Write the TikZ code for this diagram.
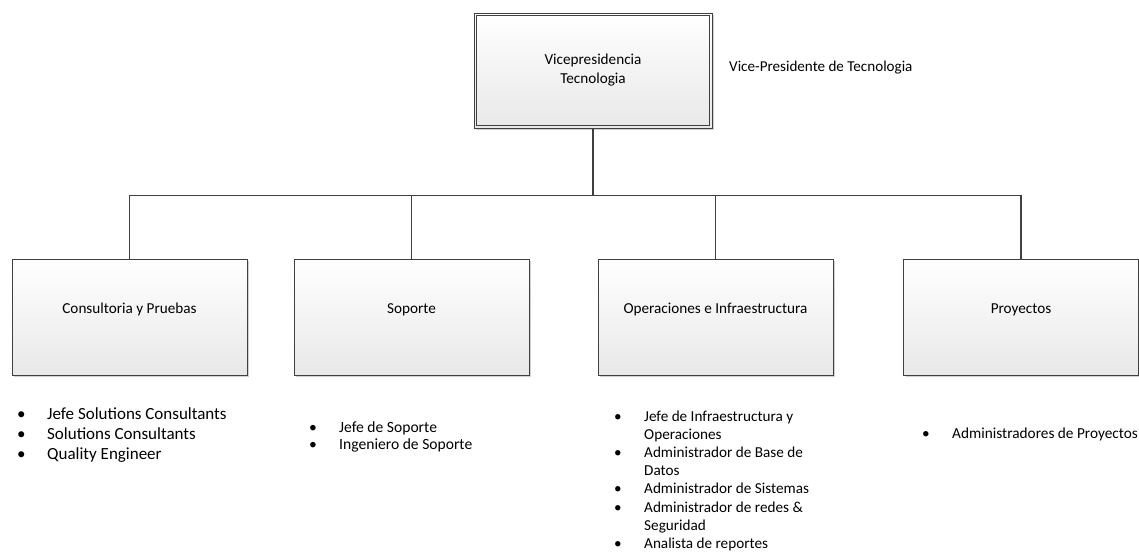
\documentclass[tikz,border=0pt]{standalone}
\usepackage{fontspec}
\setmainfont{Carlito}
\usetikzlibrary{shadows}
\definecolor{edge}{HTML}{404040}
\tikzset{
  orgbox/.style={draw=edge, line width=0.9pt, rectangle, inner sep=0pt,
    top color=white, bottom color=black!9,
    drop shadow={shadow xshift=2pt, shadow yshift=-2pt, fill=black!30, opacity=0.6},
    font=\fontsize{15.2}{19}\selectfont, align=center},
  unitbox/.style={orgbox, minimum width=235pt, minimum height=116pt,
    text height=10pt, text depth=18pt},
  conn/.style={draw=edge, line width=1.5pt},
  roles/.style={anchor=base west, inner sep=0pt, align=left},
}
\newcommand{\rolelist}[3]{\fontsize{#1}{#2}\selectfont\begin{tabular}[t]{@{}p{30pt}@{}l@{}}#3\end{tabular}}
\begin{document}
\begin{tikzpicture}[x=1pt, y=-1pt]
\useasboundingbox (0,0) rectangle (1139,551);

% head of the organisation
\node[orgbox, minimum width=238pt, minimum height=115pt] (vp) at (593,70.5)
  {\raisebox{-2pt}{\begin{tabular}{@{}c@{}}Vicepresidencia\\Tecnologia\end{tabular}}};
\draw[edge, line width=0.9pt] ([shift={(3,3)}]vp.north west) rectangle ([shift={(-3,-3)}]vp.south east);
\node[anchor=west, inner sep=0pt, font=\fontsize{15.1}{18}\selectfont] (vptitle) at (729,68)
  {Vice-Presidente de Tecnologia};

% departments
\node[unitbox] (cons) at (129.5,317) {Consultoria y Pruebas};
\node[unitbox] (sop)  at (411.5,317) {Soporte};
\node[unitbox] (ops)  at (715.5,317) {Operaciones e Infraestructura};
\node[unitbox] (proy) at (1021,317)  {Proyectos};

% reporting lines
\coordinate (bus) at (593,195.5);
\draw[conn] (vp.south) -- (vp.south |- bus);
\draw[conn] (cons.north) -- (cons.north |- bus) -- (proy.north |- bus) -- (proy.north);
\draw[conn] (sop.north) -- (sop.north |- bus);
\draw[conn] (ops.north) -- (ops.north |- bus);

% roles in each department
\node[roles] (consroles) at (17,419) {\rolelist{17}{20}{%
  \textbullet & Jefe Solutions Consultants\\
  \textbullet & Solutions Consultants\\
  \textbullet & Quality Engineer}};
\node[roles] (soproles) at (309,432.5) {\rolelist{15.6}{16.7}{%
  \textbullet & Jefe de Soporte\\
  \textbullet & Ingeniero de Soporte}};
\node[roles] (opsroles) at (614,421) {\rolelist{15.2}{18.2}{%
  \textbullet & Jefe de Infraestructura y\\
   & Operaciones\\
  \textbullet & Administrador de Base de\\
   & Datos\\
  \textbullet & Administrador de Sistemas\\
  \textbullet & Administrador de redes \&\\
   & Seguridad\\
  \textbullet & Analista de reportes}};
\node[roles] (proyroles) at (922,438) {\rolelist{15.3}{16}{%
  \textbullet & Administradores de Proyectos}};
\end{tikzpicture}
\end{document}
